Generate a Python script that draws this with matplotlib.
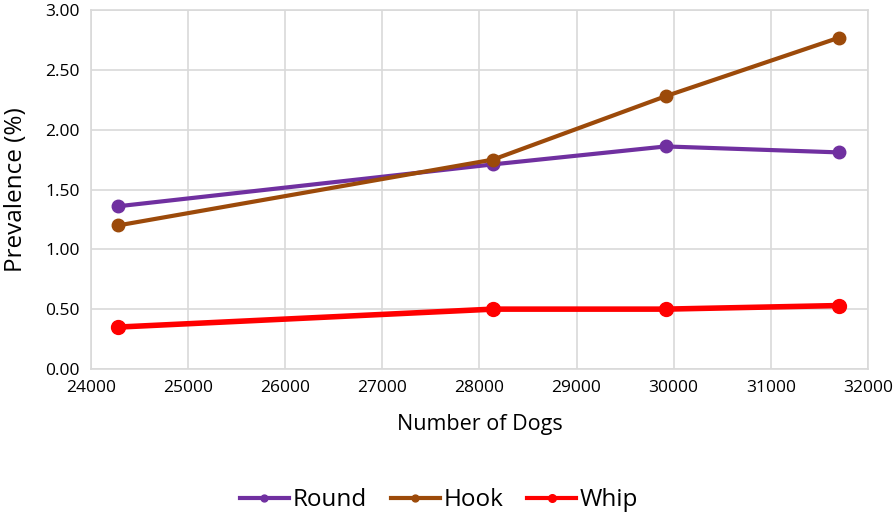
import matplotlib
matplotlib.use('Agg')
import matplotlib.pyplot as plt
from matplotlib.ticker import FormatStrFormatter

plt.rcParams['font.family'] = ['Open Sans', 'DejaVu Sans']

dogs = [24281, 28140, 29918, 31706]
round_worm = [1.36, 1.71, 1.86, 1.81]
hook_worm = [1.20, 1.75, 2.28, 2.77]
whip_worm = [0.35, 0.50, 0.50, 0.53]

fig = plt.figure(figsize=(8.96, 5.16), dpi=100)
ax = fig.add_axes([0.1016, 0.285, 0.867, 0.6955])

ax.plot(dogs, round_worm, '-o', color='#7030A0', lw=3, ms=9, label='Round')
ax.plot(dogs, hook_worm, '-o', color='#9C4A0A', lw=3, ms=9, label='Hook')
ax.plot(dogs, whip_worm, '-o', color='#FF0000', lw=4, ms=10, label='Whip')

ax.set_xlim(24000, 32000)
ax.set_ylim(0, 3)
ax.set_xticks(range(24000, 32001, 1000))
ax.set_yticks([0, 0.5, 1.0, 1.5, 2.0, 2.5, 3.0])
ax.yaxis.set_major_formatter(FormatStrFormatter('%.2f'))
ax.grid(True, color='#D9D9D9', lw=1.2)
ax.set_axisbelow(True)
for s in ax.spines.values():
    s.set_color('#D9D9D9')
    s.set_linewidth(1.2)
ax.tick_params(length=0, labelsize=12.5, pad=8)

ax.set_xlabel('Number of Dogs', fontsize=15.5, labelpad=13)
ax.set_ylabel('Prevalence (%)', fontsize=17.5)
ax.yaxis.set_label_coords(-0.081, 0.5)

leg = fig.legend(loc='lower center', bbox_to_anchor=(0.49, -0.035), ncol=3, frameon=False,
                 fontsize=17.5, handlelength=2.0, handletextpad=0.15, columnspacing=1.0,
                 markerscale=0.55)
for line in leg.get_lines():
    line.set_linewidth(3)

fig.savefig('out.png', dpi=100)
